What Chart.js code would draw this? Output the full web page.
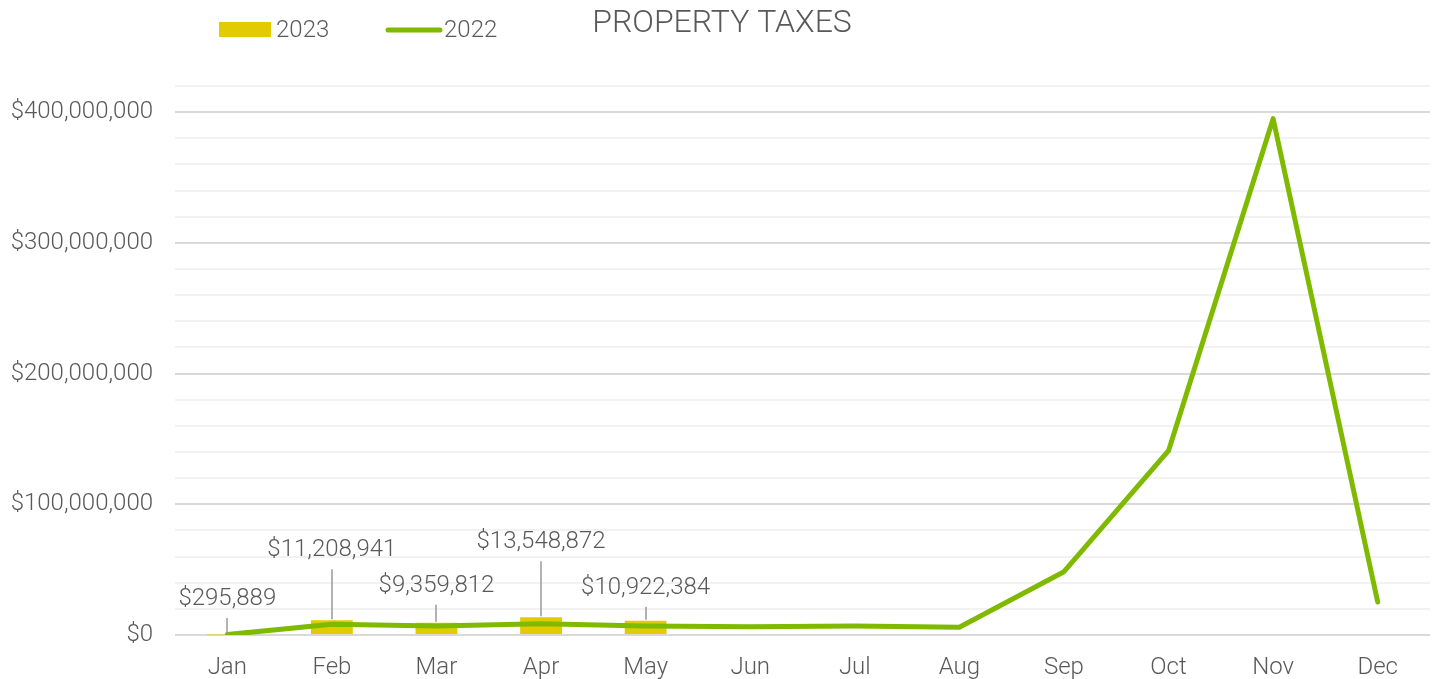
<!DOCTYPE html>
<html>
<head>
<meta charset="utf-8">
<script src="https://cdn.jsdelivr.net/npm/chart.js@4"></script>
<style>
  html, body { margin: 0; padding: 0; background: #fff; }
  #wrap { width: 1434px; height: 679px; }
</style>
</head>
<body>
<div id="wrap"><canvas id="chart-1"></canvas></div>
<script>
const months = ["Jan", "Feb", "Mar", "Apr", "May", "Jun", "Jul", "Aug", "Sep", "Oct", "Nov", "Dec"];
const taxes_2023 = [295889, 11208941, 9359812, 13548872, 10922384, null, null, null, null, null, null, null];
const taxes_2022 = [300000, 8200000, 6900000, 8700000, 6900000, 6400000, 6900000, 5900000, 48400000, 141000000, 395000000, 25200000];
const yTicks = [0, 100000000, 200000000, 300000000, 400000000];

// how far above the bar top each data label sits (px)
const labelLift = [35, 70, 37, 75, 33];

const FONT = "Roboto";
const TEXT = "#595959";

function money(v) {
  return "$" + Math.round(v).toLocaleString("en-US");
}

const headerPlugin = {
  id: "header",
  afterDraw(chart) {
    const ctx = chart.ctx;
    ctx.save();
    ctx.fillStyle = TEXT;
    ctx.textBaseline = "middle";
    ctx.font = "300 32px " + FONT;
    ctx.textAlign = "center";
    ctx.fillText("PROPERTY TAXES", 722, 24);

    ctx.font = "300 24px " + FONT;
    ctx.textAlign = "left";
    ctx.fillStyle = "#E2CB00";
    ctx.fillRect(219, 22, 52, 15);
    ctx.fillStyle = TEXT;
    ctx.fillText("2023", 276, 31);

    ctx.strokeStyle = "#7FBA00";
    ctx.lineWidth = 5;
    ctx.lineCap = "round";
    ctx.beginPath();
    ctx.moveTo(388, 30);
    ctx.lineTo(440, 30);
    ctx.stroke();
    ctx.fillText("2022", 444, 31);
    ctx.restore();
  },
};

const labelPlugin = {
  id: "barLabels",
  afterDatasetsDraw(chart) {
    const ctx = chart.ctx;
    const meta = chart.getDatasetMeta(0);
    ctx.save();
    ctx.font = "300 24px " + FONT;
    ctx.textAlign = "center";
    ctx.textBaseline = "middle";
    meta.data.forEach(function (bar, i) {
      const v = taxes_2023[i];
      if (v == null) return;
      const top = Math.min(bar.y, bar.base);
      const ly = top - labelLift[i];
      ctx.strokeStyle = "#999999";
      ctx.lineWidth = 1.5;
      ctx.beginPath();
      ctx.moveTo(Math.round(bar.x), ly + 19);
      ctx.lineTo(Math.round(bar.x), top - 1);
      ctx.stroke();
      ctx.fillStyle = TEXT;
      ctx.fillText(money(v), bar.x, ly);
    });
    ctx.restore();
  },
};

new Chart(document.getElementById("chart-1"), {
  data: {
    labels: months,
    datasets: [
      {
        type: "bar",
        label: "2023",
        data: taxes_2023,
        backgroundColor: "#E2CB00",
        categoryPercentage: 1,
        barPercentage: 0.4,
        order: 2,
      },
      {
        type: "line",
        label: "2022",
        data: taxes_2022,
        borderColor: "#7FBA00",
        borderWidth: 5,
        borderCapStyle: "round",
        borderJoinStyle: "round",
        pointRadius: 0,
        tension: 0,
        order: 1,
      },
    ],
  },
  options: {
    responsive: true,
    maintainAspectRatio: false,
    animation: false,
    layout: { padding: { top: 86, right: 4, left: 0, bottom: 0 } },
    plugins: {
      legend: { display: false },
      title: { display: false },
      tooltip: { enabled: false },
    },
    scales: {
      x: {
        grid: { display: false, drawTicks: false },
        border: { display: false },
        ticks: { color: TEXT, font: { family: FONT, size: 24, weight: "300" }, padding: 19, maxRotation: 0 },
        afterFit(s) { s.height = 44; },
      },
      y: {
        min: 0,
        max: 420000000,
        border: { display: false },
        grid: {
          drawTicks: false,
          color(c) {
            return yTicks.includes(c.tick.value) ? "#D9D9D9" : "#F2F2F2";
          },
          lineWidth: 2,
        },
        ticks: {
          stepSize: 20000000,
          color: TEXT,
          font: { family: FONT, size: 24, weight: "300" },
          padding: 22,
          autoSkip: false,
          callback(v) {
            return yTicks.includes(v) ? money(v) : "";
          },
        },
        afterFit(s) { s.width = 175; },
      },
    },
  },
  plugins: [headerPlugin, labelPlugin],
});
</script>
</body>
</html>
